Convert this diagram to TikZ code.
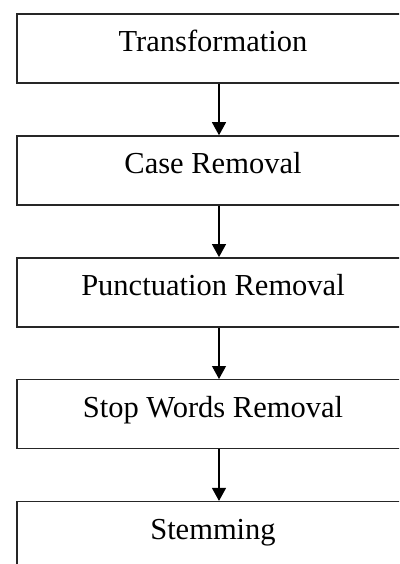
\documentclass[tikz,border=0pt]{standalone}
\usepackage{fontspec}
\setmainfont{Liberation Serif}
\usetikzlibrary{positioning,arrows.meta}

\begin{document}
\begin{tikzpicture}[x=1pt,y=-1pt,
  stagebox/.style={draw=black!85,line width=1.4pt,rectangle,
    minimum width=392pt,inner sep=0pt,text height=38pt,text depth=31pt,
    font=\fontsize{30.5}{36}\selectfont},
  flow/.style={line width=1.2pt,-{Triangle[width=14pt,length=13pt]}},
  node distance=51.5pt]
\useasboundingbox (0,0) rectangle (399,564);
\clip (0,0) rectangle (399,564);

\node [stagebox] (trans) at (213,48.5) {Transformation};
\node [stagebox, below=of trans] (case) {Case Removal};
\node [stagebox, below=of case] (punct) {Punctuation Removal};
\node [stagebox, below=of punct] (stop) {Stop Words Removal};
\node [stagebox, below=of stop] (stem) {Stemming};

\foreach \a/\b in {trans/case, case/punct, punct/stop, stop/stem}
  \draw [flow] ([xshift=6pt]\a.south) -- ([xshift=6pt]\b.north);
\end{tikzpicture}
\end{document}
